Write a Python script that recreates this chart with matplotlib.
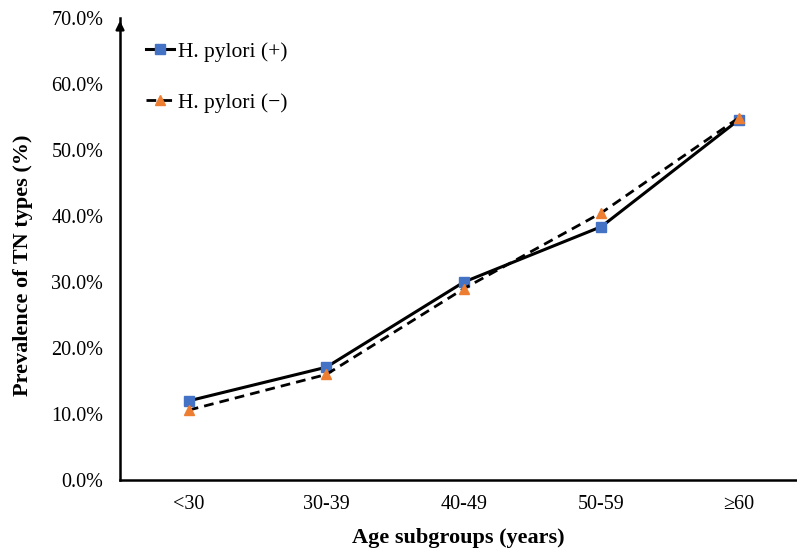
import matplotlib.pyplot as plt
from matplotlib.ticker import PercentFormatter

plt.rcParams['font.family'] = ['Liberation Serif', 'DejaVu Serif']

# Datos
age_groups = ['<30', '30-39', '40-49', '50-59', '≥60']
hp_pos = [12.0, 17.1, 30.0, 38.4, 54.6]
hp_neg = [10.6, 16.0, 29.0, 40.5, 54.9]

fig = plt.figure(figsize=(7.97, 5.48), dpi=100)
ax = fig.add_axes([0.1506, 0.124, 0.849, 0.843])

x = range(len(age_groups))
ax.plot(x, hp_pos, color='black', lw=2.2, marker='s', markersize=7,
        markerfacecolor='#4472C4', markeredgecolor='#4472C4', label='H. pylori (+)', zorder=3)
ax.plot(x, hp_neg, color='black', lw=2.0, ls=(0, (3.5, 2.2)), marker='^', markersize=7,
        markerfacecolor='#ED7D31', markeredgecolor='#ED7D31', label='H. pylori (−)', zorder=3)

ax.set_xlim(-0.5, 4.42)
ax.set_ylim(0, 70)
ax.set_xticks(list(x))
ax.set_xticklabels(age_groups)
ax.set_yticks(range(0, 71, 10))
ax.yaxis.set_major_formatter(PercentFormatter(decimals=1))
ax.tick_params(length=0, labelsize=14.5, pad=12)
ax.tick_params(axis='x', pad=11)

for s in ['top', 'right']:
    ax.spines[s].set_visible(False)
for s in ['left', 'bottom']:
    ax.spines[s].set_linewidth(1.8)
    ax.spines[s].set_color('black')

# flecha en el eje y
ax.annotate('', xy=(0, 1.0), xycoords='axes fraction', xytext=(0, 0.97),
            arrowprops=dict(arrowstyle='-|>', color='black', lw=1.8, mutation_scale=12))

ax.set_xlabel('Age subgroups (years)', fontsize=16, fontweight='bold', labelpad=10)
ax.set_ylabel('Prevalence of TN types (%)', fontsize=16, fontweight='bold')
ax.yaxis.set_label_coords(-0.128, 0.465)

leg = ax.legend(loc='upper left', bbox_to_anchor=(0.02, 0.977), frameon=False, fontsize=15.5,
                handlelength=1.3, handletextpad=0.15, labelspacing=1.45, borderaxespad=0.2)

plt.savefig('out.png', dpi=100)
plt.close()
